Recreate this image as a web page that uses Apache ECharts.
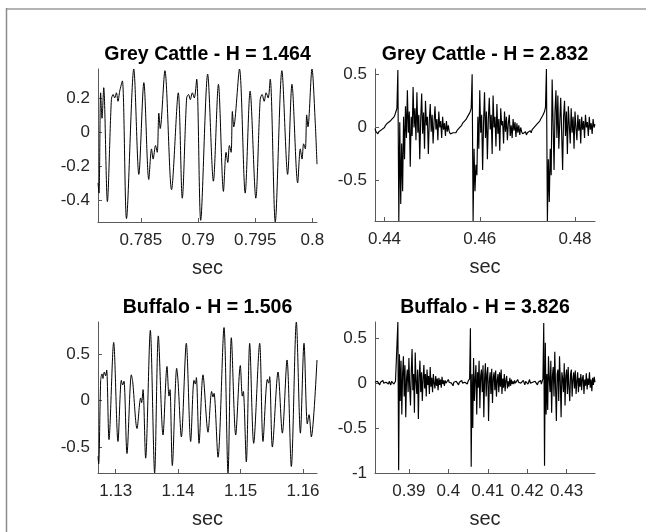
<!DOCTYPE html>
<html>
<head>
<meta charset="utf-8">
<title>Grey Cattle / Buffalo</title>
<script src="https://cdn.jsdelivr.net/npm/echarts@6/dist/echarts.min.js"></script>
<style>
html, body { margin: 0; padding: 0; background: #fff; }
#chart { width: 646px; height: 532px; }
</style>
</head>
<body>
<div id="chart"></div>
<script>
// panel titles
var titles = ['Grey Cattle - H = 1.464', 'Grey Cattle - H = 2.832', 'Buffalo - H = 1.506', 'Buffalo - H = 3.826'];

// Grey Cattle, low H (time in sec, amplitude)
var cattleLowT = [0.78125,0.78134,0.78148,0.78160,0.78175,0.78207,0.78242,0.78257,0.78271,0.78286,0.78300,0.78315,0.78338,0.78374,0.78438,0.78482,0.78526,0.78569,0.78593,0.78607,0.78628,0.78643,0.78657,0.78669,0.78710,0.78768,0.78827,0.78862,0.78900,0.78917,0.78932,0.78950,0.78967,0.78988,0.79023,0.79084,0.79134,0.79178,0.79222,0.79245,0.79260,0.79274,0.79289,0.79300,0.79312,0.79362,0.79412,0.79455,0.79505,0.79543,0.79560,0.79578,0.79595,0.79613,0.79631,0.79675,0.79733,0.79783,0.79821,0.79871,0.79894,0.79909,0.79923,0.79938,0.79950,0.79961,0.79996,0.80025,0.80040];
var cattleLowV = [-0.30,-0.36,0.23,0.08,0.26,-0.41,0.19,0.22,0.20,0.23,0.18,0.24,0.30,-0.51,0.37,-0.25,0.29,-0.28,-0.10,-0.16,-0.08,-0.12,0.11,0.02,0.36,-0.34,0.23,-0.39,0.20,0.22,0.19,0.23,0.20,0.31,-0.52,0.34,-0.29,0.28,-0.35,-0.12,-0.18,-0.08,-0.12,0.12,0.03,0.37,-0.36,0.24,-0.39,0.19,0.22,0.18,0.23,0.20,0.31,-0.53,0.36,-0.25,0.28,-0.30,-0.10,-0.16,-0.07,-0.10,0.10,0.03,0.37,0.05,-0.19];

// Grey Cattle, high H (sampled every 0.2 ms)
var cattleHighStart = 0.4380;
var cattleHighStep = 0.0002;
var cattleHighV = [
-0.01,-0.04,-0.03,-0.06,-0.04,-0.03,-0.05,-0.02,-0.03,-0.01,0.00,0.02,0.01,0.04,0.05,0.04,0.06,0.05,0.08,0.07,0.10,0.12,0.15,0.18,
0.54,-0.88,0.05,-0.72,-0.15,-0.60,0.10,-0.30,0.20,-0.10,0.35,-0.05,0.15,-0.37,0.10,-0.08,0.38,0.00,0.18,-0.12,0.33,-0.05,0.12,-0.30,0.08,0.32,-0.06,0.14,-0.20,0.25,0.02,0.10,-0.25,0.06,0.22,-0.04,0.12,-0.15,0.05,0.20,-0.02,0.08,-0.12,0.15,0.00,0.06,-0.10,0.10,-0.02,0.04,-0.08,0.06,-0.04,0.02,
-0.04,-0.06,-0.05,-0.07,-0.05,-0.06,-0.04,-0.05,-0.03,-0.02,-0.03,0.00,0.01,0.02,0.04,0.03,0.06,0.07,0.08,0.10,0.11,0.13,0.15,0.18,
0.50,-0.88,-0.20,-0.60,-0.35,-0.45,0.10,-0.20,0.35,-0.05,0.12,-0.40,0.05,0.33,-0.10,0.15,-0.30,0.08,0.28,-0.02,0.12,-0.25,0.30,0.00,0.10,-0.18,0.22,-0.06,0.08,-0.22,0.18,0.02,0.06,-0.15,0.15,-0.04,0.10,-0.12,0.04,0.12,-0.08,0.02,-0.10,0.08,-0.03,0.05,-0.09,0.04,-0.05,0.02,-0.07,0.00,-0.04,-0.06,
-0.05,-0.06,-0.04,-0.07,-0.05,-0.06,-0.04,-0.03,-0.05,-0.02,-0.01,-0.02,0.01,0.02,0.01,0.04,0.05,0.06,0.08,0.09,0.11,0.13,0.15,0.19,
0.55,-0.88,-0.30,-0.70,-0.20,-0.45,0.45,0.05,-0.40,0.15,0.35,-0.10,0.30,-0.20,0.05,0.28,-0.05,-0.40,0.10,0.25,-0.08,0.15,-0.25,0.20,0.02,-0.15,0.18,-0.05,0.10,-0.20,0.15,0.00,-0.12,0.12,-0.03,0.08,-0.15,0.10,-0.02,0.06,-0.10,0.12,0.00,0.05,-0.08,0.10,-0.02,0.04,-0.06,0.08,0.00,0.03
];

// Buffalo, low H (time in sec, amplitude)
var buffaloLowT = [1.12717,1.12728,1.12760,1.12781,1.12797,1.12818,1.12840,1.12856,1.12893,1.12968,1.13037,1.13091,1.13112,1.13133,1.13181,1.13251,1.13272,1.13342,1.13400,1.13416,1.13438,1.13480,1.13555,1.13624,1.13683,1.13758,1.13822,1.13854,1.13870,1.13907,1.13977,1.13998,1.14052,1.14131,1.14201,1.14254,1.14276,1.14292,1.14335,1.14398,1.14479,1.14537,1.14559,1.14575,1.14639,1.14735,1.14799,1.14852,1.14922,1.14996,1.15028,1.15044,1.15092,1.15146,1.15210,1.15306,1.15359,1.15429,1.15450,1.15466,1.15509,1.15600,1.15669,1.15744,1.15813,1.15893,1.15958,1.16016,1.16069,1.16097,1.16133,1.16224];
var buffaloLowV = [-0.60,-0.68,0.22,0.29,0.24,0.31,0.27,0.33,-0.42,0.63,-0.44,0.22,0.17,0.21,-0.57,0.28,0.21,-0.30,0.03,-0.02,0.12,-0.62,0.76,-0.78,0.70,-0.37,0.37,0.05,0.12,-0.70,0.35,0.22,-0.39,0.62,-0.44,0.22,0.18,0.25,-0.46,0.28,-0.34,0.10,0.04,0.08,-0.61,0.79,-0.78,0.68,-0.37,0.38,0.05,0.10,-0.66,0.62,-0.46,0.62,-0.44,0.23,0.19,0.26,-0.50,0.31,-0.35,0.44,-0.71,0.85,-0.35,0.62,-0.25,-0.15,-0.39,0.44];

// Buffalo, high H (sampled every 0.2 ms)
var buffaloHighStart = 0.3814;
var buffaloHighStep = 0.0002;
var buffaloHighV = [
0.01,0.03,-0.01,0.02,0.00,0.03,-0.02,0.01,0.02,-0.01,0.03,0.00,0.02,-0.02,0.01,0.03,0.00,-0.01,0.02,0.01,-0.02,0.02,0.00,0.03,-0.01,0.01,0.02,0.00,0.04,
0.68,-0.97,0.32,-0.20,0.25,-0.35,0.10,0.30,-0.15,0.20,-0.38,0.05,0.15,-0.10,0.28,-0.05,-0.25,0.12,0.38,-0.08,0.10,-0.33,0.34,0.02,-0.12,0.15,-0.40,0.08,0.25,-0.10,0.12,-0.20,0.05,0.20,-0.06,0.10,-0.15,0.15,-0.02,0.08,-0.12,0.18,-0.04,0.06,-0.10,0.10,0.00,-0.06,0.08,-0.03,0.05,-0.08,0.06,-0.02,0.04,-0.05,0.07,-0.01,0.03,-0.03,
0.03,0.00,0.02,-0.02,0.04,0.01,-0.01,0.03,0.00,0.02,-0.03,0.01,0.03,-0.01,0.02,0.00,0.04,-0.02,0.01,0.02,-0.01,0.03,0.00,0.02,-0.02,0.01,0.03,0.00,-0.01,0.02,0.01,0.05,
0.61,-0.93,0.10,-0.50,0.28,-0.20,0.05,0.20,-0.35,0.12,-0.05,0.25,-0.28,0.08,0.15,-0.10,0.20,-0.38,0.05,0.22,-0.15,0.10,0.18,-0.42,0.02,0.12,-0.12,0.16,-0.22,0.06,0.12,-0.08,0.14,-0.15,0.03,0.10,-0.10,0.12,-0.04,0.15,-0.12,0.05,-0.05,0.10,-0.09,0.03,0.08,-0.06,0.02,-0.04,0.06,-0.03,0.04,-0.01,
0.02,-0.01,0.03,0.00,0.02,-0.02,0.04,0.01,-0.01,0.03,0.00,0.02,-0.01,0.03,0.01,-0.02,0.02,0.00,0.03,-0.01,0.01,0.04,0.00,-0.02,0.02,0.01,0.03,-0.01,0.02,0.00,0.03,-0.02,0.01,0.02,0.00,0.03,-0.01,0.02,0.05,
0.67,-0.92,0.45,-0.35,0.10,-0.30,0.30,0.05,-0.10,0.25,-0.33,0.08,0.18,-0.15,0.35,-0.05,-0.42,0.10,0.15,-0.20,0.30,0.02,-0.38,0.12,0.05,-0.10,0.22,-0.25,0.08,0.15,-0.12,0.18,-0.05,-0.20,0.10,0.15,-0.15,0.04,0.12,-0.06,0.14,-0.12,0.02,0.12,-0.10,0.06,-0.04,0.10,-0.08,0.05,0.09,-0.12,0.04,-0.03,0.11,-0.07,0.05,-0.02,0.12,-0.05,0.04,-0.09,0.06,-0.02,0.07,0.01
];

// tick labels
var xTicks = [[0.785, 0.79, 0.795, 0.8], [0.44, 0.46, 0.48], [1.13, 1.14, 1.15, 1.16], [0.39, 0.4, 0.41, 0.42, 0.43]];
var yTicks = [[-0.4, -0.2, 0, 0.2], [-0.5, 0, 0.5], [-0.5, 0, 0.5], [-1, -0.5, 0, 0.5]];

function pairs(t, v) {
	var out = [];
	var n = Math.min(t.length, v.length);
	for (var i = 0; i < n; i++) out.push([t[i], v[i]]);
	return out;
}
function sampled(start, step, v) {
	var out = [];
	for (var i = 0; i < v.length; i++) out.push([+(start + i * step).toFixed(5), v[i]]);
	return out;
}

var panelData = [
	pairs(cattleLowT, cattleLowV),
	sampled(cattleHighStart, cattleHighStep, cattleHighV),
	pairs(buffaloLowT, buffaloLowV),
	sampled(buffaloHighStart, buffaloHighStep, buffaloHighV)
];

// layout of the four axes boxes
var boxes = [
	{left: 98, top: 69, width: 219, height: 153},
	{left: 375, top: 69, width: 220, height: 152},
	{left: 98, top: 322, width: 219, height: 151},
	{left: 375, top: 322, width: 220, height: 151}
];
var yMin = ['dataMin', 'dataMin', 'dataMin', -1];
var smoothing = [0.3, false, 0.3, false];
var lineW = [1, 1.15, 1, 1.15];

var font = 'Liberation Sans, Arial, Helvetica, sans-serif';
var axisCol = '#5a5a5a';
var txtCol = '#262626';

function fmt(v) { return String(+(+v).toFixed(4)); }

var grids = [], xAxes = [], yAxes = [], series = [], titleList = [];
for (var p = 0; p < 4; p++) {
	var b = boxes[p];
	grids.push({left: b.left, top: b.top, width: b.width, height: b.height});
	titleList.push({
		text: titles[p],
		left: b.left + b.width / 2,
		top: b.top - 24,
		textAlign: 'center',
		padding: 0,
		textStyle: {fontFamily: font, fontSize: 19.5, fontWeight: 'bold', color: '#000'}
	});
	xAxes.push({
		type: 'value', gridIndex: p,
		min: 'dataMin', max: 'dataMax',
		name: 'sec', nameLocation: 'middle', nameGap: 36,
		nameTextStyle: {fontFamily: font, fontSize: 20, color: txtCol},
		axisLine: {show: true, onZero: false, lineStyle: {color: axisCol, width: 1}},
		axisTick: {show: true, inside: true, length: 4, customValues: xTicks[p], lineStyle: {color: axisCol}},
		axisLabel: {customValues: xTicks[p], formatter: fmt, margin: 10, fontFamily: font, fontSize: 17, color: txtCol},
		splitLine: {show: false}
	});
	yAxes.push({
		type: 'value', gridIndex: p,
		min: yMin[p], max: 'dataMax',
		axisLine: {show: true, onZero: false, lineStyle: {color: axisCol, width: 1}},
		axisTick: {show: true, inside: true, length: 4, customValues: yTicks[p], lineStyle: {color: axisCol}},
		axisLabel: {customValues: yTicks[p], formatter: fmt, margin: 8, fontFamily: font, fontSize: 17, color: txtCol},
		splitLine: {show: false}
	});
	series.push({
		type: 'line', xAxisIndex: p, yAxisIndex: p,
		data: panelData[p],
		smooth: smoothing[p],
		showSymbol: false, symbol: 'none',
		lineStyle: {color: '#000', width: lineW[p]},
		silent: true
	});
}

var myChart = echarts.init(document.getElementById('chart'));
myChart.setOption({
	animation: false,
	backgroundColor: '#fff',
	title: titleList,
	grid: grids,
	xAxis: xAxes,
	yAxis: yAxes,
	series: series,
	graphic: [
		{type: 'line', shape: {x1: 6, y1: 9, x2: 646, y2: 9}, style: {stroke: '#b4b4b4', lineWidth: 2}, silent: true},
		{type: 'line', shape: {x1: 6.5, y1: 8, x2: 6.5, y2: 532}, style: {stroke: '#8c8c8c', lineWidth: 1.5}, silent: true}
	]
});
</script>
</body>
</html>
